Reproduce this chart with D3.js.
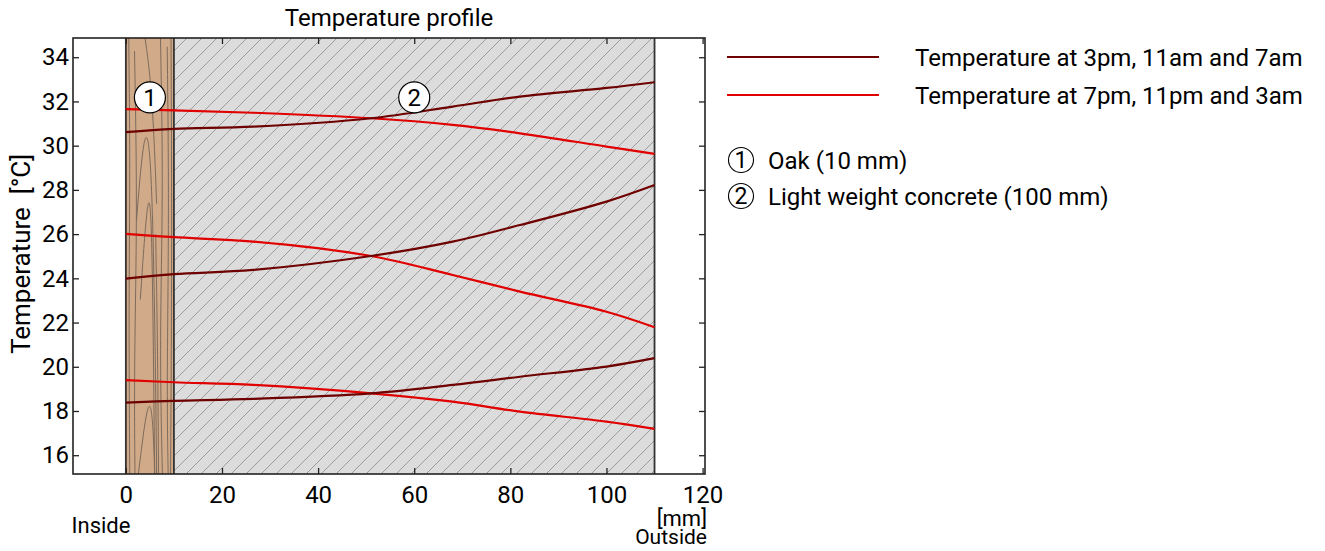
<!DOCTYPE html>
<html>
<head>
<meta charset="utf-8">
<script src="https://cdn.jsdelivr.net/npm/d3@7"></script>
<style>
  body { margin: 0; background: #fff; }
  text { font-family: Roboto, "Noto Sans", sans-serif; fill: #000; }
</style>
</head>
<body>
<script>
// ---- data
var depths = [0, 10, 26.5, 51, 68, 82, 100, 110]   // mm
var dayTemps = [   // 3pm, 11am, 7am
  [30.61, 30.76, 30.86, 31.24, 31.77, 32.22, 32.61, 32.87],
  [23.99, 24.19, 24.38, 25.01, 25.66, 26.41, 27.47, 28.22],
  [18.38, 18.46, 18.55, 18.80, 19.18, 19.55, 20.01, 20.39]
]
var nightTemps = [ // 7pm, 11pm, 3am
  [31.65, 31.60, 31.49, 31.24, 30.94, 30.56, 29.96, 29.63],
  [26.01, 25.86, 25.66, 25.01, 24.15, 23.40, 22.49, 21.79],
  [19.40, 19.30, 19.18, 18.80, 18.42, 17.97, 17.52, 17.19]
]
var layers = [
  {id: 1, name: 'Oak (10 mm)', from: 0, to: 10, mid: 5},
  {id: 2, name: 'Light weight concrete (100 mm)', from: 10, to: 110, mid: 60}
]
var legendLines = ['Temperature at 3pm, 11am and 7am', 'Temperature at 7pm, 11pm and 3am']
var xTicks = [0, 20, 40, 60, 80, 100, 120]
var yTicks = [16, 18, 20, 22, 24, 26, 28, 30, 32, 34]

var darkRed = '#6e0000', red = '#e00000'

// ---- svg
var W = 1325, H = 551
var m = {left: 73, top: 38, right: 705, bottom: 474}

var svg = d3.select('body').append('svg')
  .attr('width', W).attr('height', H)

var x = d3.scaleLinear().domain([-11, 120.5]).range([m.left, m.right])
var y = d3.scaleLinear().domain([15.15, 34.87]).range([m.bottom, m.top])

var defs = svg.append('defs')
var hatch = defs.append('pattern')
  .attr('id', 'hatch')
  .attr('patternUnits', 'userSpaceOnUse')
  .attr('width', 15).attr('height', 15)
hatch.append('rect').attr('width', 15).attr('height', 15).attr('fill', '#dcdcdc')
hatch.append('path')
  .attr('d', 'M0,15 L15,0 M-4,4 L4,-4 M11,19 L19,11')
  .attr('stroke', '#9c9c9c').attr('stroke-width', 1)

defs.append('clipPath').attr('id', 'oakclip')
  .append('rect')
    .attr('x', x(0)).attr('y', m.top)
    .attr('width', x(10) - x(0)).attr('height', m.bottom - m.top)

// ---- layers
var gLayers = svg.append('g').attr('class', 'layers')
gLayers.selectAll('rect.layer')
  .data(layers)
  .enter()
  .append('rect')
    .attr('class', 'layer')
    .attr('x', function (d) { return x(d.from) })
    .attr('y', m.top)
    .attr('width', function (d) { return x(d.to) - x(d.from) })
    .attr('height', m.bottom - m.top)
    .attr('fill', function (d) { return d.id == 1 ? '#d0aa89' : 'url(#hatch)' })

// wood grain (decoration)
var ox = x(0), ow = x(10) - x(0)
var grain = svg.append('g').attr('clip-path', 'url(#oakclip)')
  .attr('fill', 'none').attr('stroke', '#7d6b5c').attr('stroke-width', 1)
var grainPaths = [
  [[0.06, 0], [0.09, 0.3], [0.06, 0.6], [0.08, 1]],
  [[0.18, 0.03], [0.24, 0.4], [0.17, 0.75], [0.19, 1]],
  [[0.72, 0], [0.78, 0.35], [0.7, 0.7], [0.76, 1]],
  [[0.86, 0.02], [0.9, 0.4], [0.85, 0.8], [0.88, 1]],
  [[0.94, 0], [0.96, 0.5], [0.93, 1]],
  [[0.22, 0.42], [0.38, 0.2], [0.52, 0.24], [0.6, 0.6], [0.64, 1]],
  [[0.3, 0.6], [0.46, 0.34], [0.54, 0.4], [0.58, 0.8], [0.6, 1]],
  [[0.26, 1], [0.46, 0.82], [0.56, 0.86], [0.6, 1]],
  [[0.4, 0], [0.55, 0.12], [0.64, 0.38]],
  [[0.62, 0.45], [0.66, 0.7], [0.68, 1]]
]
var gl = d3.line()
  .x(function (p) { return ox + p[0] * ow })
  .y(function (p) { return m.top + p[1] * (m.bottom - m.top) })
  .curve(d3.curveBasis)
grain.selectAll('path').data(grainPaths).enter().append('path').attr('d', gl)

// layer borders
svg.append('g').selectAll('line')
  .data([0, 10, 110])
  .enter()
  .append('line')
    .attr('x1', function (d) { return x(d) }).attr('x2', function (d) { return x(d) })
    .attr('y1', m.top).attr('y2', m.bottom)
    .attr('stroke', '#333').attr('stroke-width', 1.8)

// ---- curves
var line = d3.line()
  .x(function (d, i) { return x(depths[i]) })
  .y(function (d) { return y(d) })
  .curve(d3.curveCatmullRom.alpha(0.5))

var gCurves = svg.append('g').attr('fill', 'none').attr('stroke-width', 2.2)
gCurves.selectAll('path.night').data(nightTemps).enter()
  .append('path').attr('class', 'night').attr('d', line).attr('stroke', red)
gCurves.selectAll('path.day').data(dayTemps).enter()
  .append('path').attr('class', 'day').attr('d', line).attr('stroke', darkRed)

// ---- layer numbers
var nums = svg.append('g').selectAll('g.num')
  .data(layers).enter()
  .append('g').attr('class', 'num')
  .attr('transform', function (d) { return 'translate(' + x(d.mid) + ',' + y(32.18) + ')' })
nums.append('circle').attr('r', 15.5).attr('fill', '#fff').attr('stroke', '#000').attr('stroke-width', 1.2)
nums.append('text').attr('text-anchor', 'middle').attr('dy', '0.36em')
  .style('font-size', '24px').text(function (d) { return d.id })

// ---- frame and ticks
svg.append('rect')
  .attr('x', m.left).attr('y', m.top)
  .attr('width', m.right - m.left).attr('height', m.bottom - m.top)
  .attr('fill', 'none').attr('stroke', '#222').attr('stroke-width', 1.6)

var tickLen = 6
var axB = svg.append('g').attr('transform', 'translate(0,' + m.bottom + ')')
  .call(d3.axisBottom(x).tickValues(xTicks).tickSizeInner(-tickLen).tickSizeOuter(0).tickPadding(12))
var axT = svg.append('g').attr('transform', 'translate(0,' + m.top + ')')
  .call(d3.axisTop(x).tickValues(xTicks).tickSizeInner(-tickLen).tickSizeOuter(0).tickFormat(''))
var axL = svg.append('g').attr('transform', 'translate(' + m.left + ',0)')
  .call(d3.axisLeft(y).tickValues(yTicks).tickSizeInner(-tickLen).tickSizeOuter(0).tickPadding(4))
var axR = svg.append('g').attr('transform', 'translate(' + m.right + ',0)')
  .call(d3.axisRight(y).tickValues(yTicks).tickSizeInner(-tickLen).tickSizeOuter(0).tickFormat(''))

;[axB, axT, axL, axR].forEach(function (a) {
  a.select('.domain').remove()
  a.selectAll('.tick line').attr('stroke', '#222').attr('stroke-width', 1.3)
  a.selectAll('.tick text').style('font-size', '24px')
    .attr('fill', '#000').style('font-family', 'Roboto, sans-serif')
})

// ---- titles
svg.append('text').attr('x', (m.left + m.right) / 2).attr('y', 26)
  .attr('text-anchor', 'middle').style('font-size', '24px')
  .text('Temperature profile')

svg.append('text')
  .attr('transform', 'translate(30,254) rotate(-90)')
  .attr('text-anchor', 'middle').style('font-size', '26px')
  .attr('xml:space', 'preserve')
  .text('Temperature  [°C]')

svg.append('text').attr('x', 101).attr('y', 533).attr('text-anchor', 'middle')
  .style('font-size', '22px').text('Inside')
svg.append('text').attr('x', 707).attr('y', 526).attr('text-anchor', 'end')
  .style('font-size', '22px').text('[mm]')
svg.append('text').attr('x', 707).attr('y', 544).attr('text-anchor', 'end')
  .style('font-size', '21px').text('Outside')

// ---- legend
var leg = svg.append('g').selectAll('g.leg')
  .data(legendLines).enter()
  .append('g').attr('class', 'leg')
  .attr('transform', function (d, i) { return 'translate(727,' + (57 + i * 38) + ')' })
leg.append('line').attr('x1', 0).attr('x2', 152)
  .attr('stroke', function (d, i) { return i == 0 ? darkRed : red }).attr('stroke-width', 2.2)
leg.append('text').attr('x', 188).attr('dy', '0.36em')
  .style('font-size', '24px').text(function (d) { return d })

var leg2 = svg.append('g').selectAll('g.leg2')
  .data(layers).enter()
  .append('g').attr('class', 'leg2')
  .attr('transform', function (d, i) { return 'translate(741,' + (160 + i * 36) + ')' })
leg2.append('circle').attr('r', 12.5).attr('fill', 'none').attr('stroke', '#000').attr('stroke-width', 1.1)
leg2.append('text').attr('text-anchor', 'middle').attr('dy', '0.36em')
  .style('font-size', '23px').text(function (d) { return d.id })
leg2.append('text').attr('x', 27).attr('dy', '0.36em')
  .style('font-size', '24px').text(function (d) { return d.name })
</script>
</body>
</html>
